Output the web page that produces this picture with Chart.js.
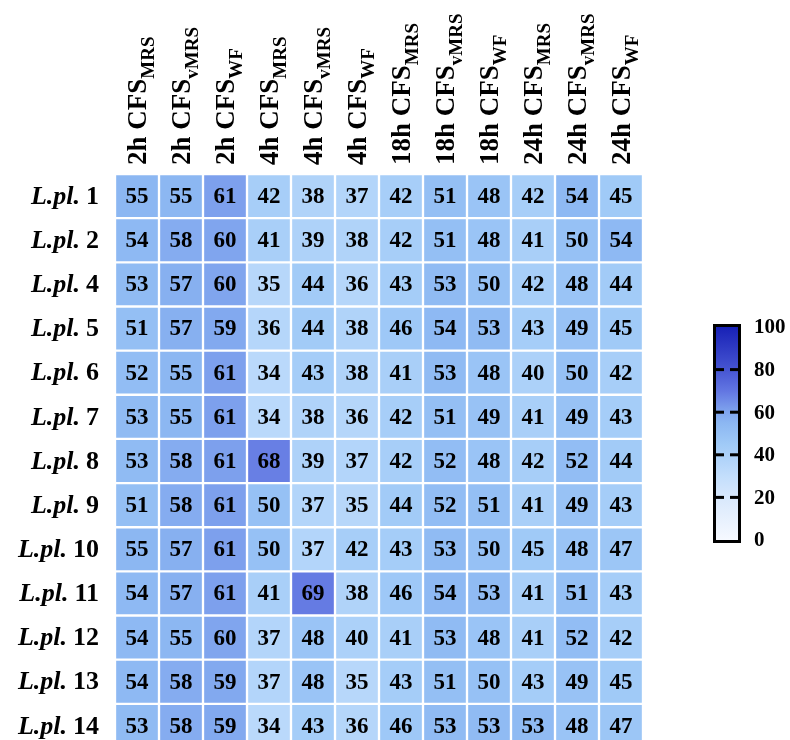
<!DOCTYPE html>
<html>
<head>
<meta charset="utf-8">
<script src="https://cdn.jsdelivr.net/npm/chart.js@4.4.1/dist/chart.umd.min.js"></script>
<style>
  html, body { margin: 0; padding: 0; background: #fff; overflow: hidden; }
  #wrap { width: 790px; height: 760px; }
</style>
</head>
<body>
<div id="wrap"><canvas id="grafico" width="790" height="760"></canvas></div>
<script>
// colunas: tempo + meio
const tempos = ['2h', '2h', '2h', '4h', '4h', '4h', '18h', '18h', '18h', '24h', '24h', '24h'];
const meios = ['MRS', 'vMRS', 'WF', 'MRS', 'vMRS', 'WF', 'MRS', 'vMRS', 'WF', 'MRS', 'vMRS', 'WF'];
// linhas: cepas L.pl.
const cepas = ['1', '2', '4', '5', '6', '7', '8', '9', '10', '11', '12', '13', '14'];
// valores (uma linha por cepa)
const valores = [
    [55, 55, 61, 42, 38, 37, 42, 51, 48, 42, 54, 45],
    [54, 58, 60, 41, 39, 38, 42, 51, 48, 41, 50, 54],
    [53, 57, 60, 35, 44, 36, 43, 53, 50, 42, 48, 44],
    [51, 57, 59, 36, 44, 38, 46, 54, 53, 43, 49, 45],
    [52, 55, 61, 34, 43, 38, 41, 53, 48, 40, 50, 42],
    [53, 55, 61, 34, 38, 36, 42, 51, 49, 41, 49, 43],
    [53, 58, 61, 68, 39, 37, 42, 52, 48, 42, 52, 44],
    [51, 58, 61, 50, 37, 35, 44, 52, 51, 41, 49, 43],
    [55, 57, 61, 50, 37, 42, 43, 53, 50, 45, 48, 47],
    [54, 57, 61, 41, 69, 38, 46, 54, 53, 41, 51, 43],
    [54, 55, 60, 37, 48, 40, 41, 53, 48, 41, 52, 42],
    [54, 58, 59, 37, 48, 35, 43, 51, 50, 43, 49, 45],
    [53, 58, 59, 34, 43, 36, 46, 53, 53, 53, 48, 47]
];
// escala de cor
const escalaTicks = [0, 20, 40, 60, 80, 100];
const escalaMin = 0;
const escalaMax = 100;
const paradas = [
    [0, [246, 249, 255]],
    [20, [216, 232, 252]],
    [30, [195, 222, 252]],
    [45, [160, 202, 247]],
    [55, [140, 183, 242]],
    [60, [128, 165, 238]],
    [70, [98, 118, 226]],
    [80, [70, 85, 210]],
    [100, [24, 33, 182]]
];

function corPara(v) {
    for (let i = 1; i < paradas.length; i++) {
        const [v1, c1] = paradas[i];
        const [v0, c0] = paradas[i - 1];
        if (v <= v1) {
            const t = (v - v0) / (v1 - v0);
            const c = c0.map((x, k) => Math.round(x + (c1[k] - x) * t));
            return `rgb(${c[0]},${c[1]},${c[2]})`;
        }
    }
    const c = paradas[paradas.length - 1][1];
    return `rgb(${c[0]},${c[1]},${c[2]})`;
}

const fonte = 'Liberation Serif';

// Textos: numeros nas celulas, nomes das linhas, cabecalhos e barra de cor
const rotulosPlugin = {
    id: 'rotulos',
    afterDatasetsDraw(chart) {
        const ctx = chart.ctx;
        const xs = chart.scales.x;
        const ys = chart.scales.y;
        ctx.save();
        ctx.fillStyle = '#000';

        // numeros
        ctx.font = `bold 23px "${fonte}"`;
        ctx.textAlign = 'center';
        ctx.textBaseline = 'middle';
        chart.data.datasets.forEach((ds, i) => {
            const meta = chart.getDatasetMeta(i);
            meta.data.forEach((el, j) => {
                ctx.fillText(String(valores[i][j]), el.x, (el.y + el.base) / 2 + 1);
            });
        });

        // nomes das linhas
        cepas.forEach((c, i) => {
            const y = ys.getPixelForValue(i + 0.5);
            ctx.textAlign = 'right';
            ctx.font = `bold 26px "${fonte}"`;
            ctx.fillText(c, 99, y + 1);
            const w = ctx.measureText(c).width;
            ctx.font = `italic bold 26px "${fonte}"`;
            ctx.fillText('L.pl.', 99 - w - 6, y + 1);
        });

        // cabecalhos girados
        tempos.forEach((t, j) => {
            const x = xs.getPixelForValue(j) + 9;
            ctx.save();
            ctx.translate(x, 165);
            ctx.rotate(-Math.PI / 2);
            ctx.textAlign = 'left';
            ctx.textBaseline = 'alphabetic';
            ctx.font = `bold 27px "${fonte}"`;
            const principal = `${t} CFS`;
            ctx.fillText(principal, 0, 0);
            const w = ctx.measureText(principal).width;
            ctx.font = `bold 19px "${fonte}"`;
            ctx.fillText(meios[j], w, 8);
            ctx.restore();
        });

        // barra de cor
        const bx = 716, bw = 22, top = 327, bottom = 540;
        const grad = ctx.createLinearGradient(0, bottom, 0, top);
        paradas.forEach(([v]) => grad.addColorStop((v - escalaMin) / (escalaMax - escalaMin), corPara(v)));
        ctx.fillStyle = grad;
        ctx.fillRect(bx, top, bw, bottom - top);
        ctx.strokeStyle = '#000';
        ctx.lineWidth = 3;
        ctx.strokeRect(bx - 1.5, top - 1.5, bw + 3, bottom - top + 3);
        ctx.fillStyle = '#000';
        ctx.font = `bold 21px "${fonte}"`;
        ctx.textAlign = 'left';
        ctx.textBaseline = 'middle';
        escalaTicks.forEach(v => {
            const y = bottom - (v - escalaMin) / (escalaMax - escalaMin) * (bottom - top);
            if (v > escalaMin && v < escalaMax) {
                ctx.fillRect(bx, y - 1.5, 8, 3);
                ctx.fillRect(bx + bw - 8, y - 1.5, 8, 3);
            }
            ctx.fillText(String(v), 754, y + 1);
        });

        ctx.restore();
    }
};

const ctx = document.getElementById('grafico').getContext('2d');

new Chart(ctx, {
    type: 'bar',
    data: {
        labels: tempos.map((t, j) => `${t} CFS ${meios[j]}`),
        datasets: cepas.map((c, i) => ({
            label: `L.pl. ${c}`,
            data: valores[i].map(() => 1),
            backgroundColor: valores[i].map(v => corPara(v)),
            borderColor: '#ffffff',
            borderWidth: 1.5,
            borderSkipped: false,
            barPercentage: 1,
            categoryPercentage: 1
        }))
    },
    options: {
        responsive: false,
        animation: false,
        layout: { padding: { left: 115, right: 147, top: 174, bottom: 12 } },
        plugins: {
            legend: { display: false },
            tooltip: { enabled: false }
        },
        scales: {
            x: { display: false, stacked: true },
            y: { display: false, stacked: true, min: 0, max: cepas.length, reverse: true }
        }
    },
    plugins: [rotulosPlugin]
});
</script>
</body>
</html>
